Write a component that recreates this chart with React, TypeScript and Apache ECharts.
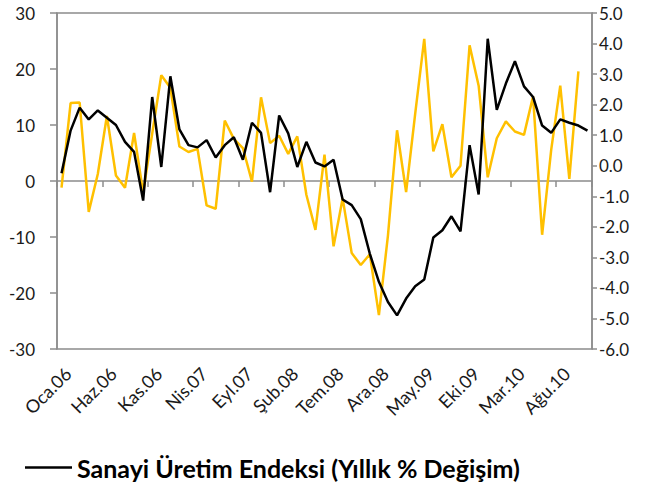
import React, { useEffect, useRef } from "react";
import * as echarts from "echarts";

const monthNames = ["Oca", "Şub", "Mar", "Nis", "May", "Haz", "Tem", "Ağu", "Eyl", "Eki", "Kas", "Ara"];
const years = ["06", "07", "08", "09", "10"];
const monthCount = 59; // Oca.06 .. Kas.10

const categories: string[] = [];
for (let i = 0; i < monthCount; i++) {
  categories.push(monthNames[i % 12] + "." + years[Math.floor(i / 12)]);
}

// Sanayi Üretim Endeksi (Yıllık % Değişim) - left axis
const sanayiYillik = [
  1.4, 9.0, 13.1, 11.0, 12.6, 11.3, 10.0, 7.0, 5.2, -3.5,
  15.0, 2.5, 18.7, 9.2, 6.4, 6.0, 7.3, 4.2, 6.4, 7.8,
  3.8, 10.4, 8.6, -2.0, 11.7, 8.5, 2.5, 7.0, 3.3, 2.6,
  3.8, -3.3, -4.3, -6.8, -13.0, -18.0, -21.6, -24.0, -21.0, -18.8,
  -17.6, -10.1, -8.8, -6.3, -9.0, 6.4, -2.4, 25.4, 12.7, 17.4,
  21.4, 16.9, 15.0, 9.9, 8.6, 11.0, 10.4, 9.9, 9.0,
];

// second series (right axis)
const sanayiAylik = [
  -0.72, 2.05, 2.07, -1.51, -0.27, 1.63, -0.32, -0.72, 1.07, -0.88,
  1.05, 2.96, 2.55, 0.63, 0.45, 0.55, -1.30, -1.41, 1.48, 0.88,
  0.58, -0.52, 2.24, 0.74, 0.98, 0.39, 0.96, -0.95, -2.10, 0.36,
  -2.64, -1.07, -2.86, -3.25, -2.90, -4.89, -2.28, 1.16, -0.86, 1.7,
  4.15, 0.47, 1.36, -0.38, 0.0, 3.94, 2.62, -0.38, 0.90, 1.45,
  1.12, 1.01, 2.27, -2.26, 0.52, 2.62, -0.43, 3.09,
];

const leftTicks = { min: -30, max: 30, interval: 10 };
const rightTicks = { min: -6, max: 5, interval: 1 };

const legendName = "Sanayi Üretim Endeksi (Yıllık % Değişim)";

export default function App() {
  const ref = useRef<HTMLDivElement>(null);
  useEffect(() => {
    if (!ref.current) return;
    const chart = echarts.init(ref.current, null, { renderer: "svg" });
    const gray = "#8c8c8c";
    const font = "Lato";
    chart.setOption({
      animation: false,
      textStyle: { fontFamily: font },
      grid: {
        left: 57,
        right: 57,
        top: 13,
        bottom: 140,
        show: true,
        borderColor: gray,
        borderWidth: 1.5,
        backgroundColor: "transparent",
      },
      legend: {
        data: [legendName],
        left: 20,
        top: 450,
        icon: "rect",
        itemWidth: 47,
        itemHeight: 2.5,
        itemGap: 4,
        textStyle: { fontFamily: font, fontWeight: "bold", fontSize: 25, color: "#000" },
      },
      xAxis: [
        {
          type: "category",
          data: categories,
          position: "top",
          boundaryGap: true,
          axisLine: { show: true, onZero: true, onZeroAxisIndex: 0, lineStyle: { color: gray, width: 1.5 } },
          axisTick: { show: true, inside: true, length: 6, interval: 4, lineStyle: { color: gray, width: 1.5 } },
          axisLabel: { show: false },
          splitLine: { show: false },
        },
        {
          type: "category",
          data: categories,
          position: "bottom",
          boundaryGap: true,
          axisLine: { show: false, onZero: false },
          axisTick: { show: false },
          axisLabel: {
            show: true,
            interval: 4,
            rotate: 45,
            margin: 15,
            verticalAlign: "top",
            padding: [0, 0, 0, 0],
            fontSize: 18,
            fontFamily: font,
            color: "#1a1a1a",
          },
          splitLine: { show: false },
        },
      ],
      yAxis: [
        {
          type: "value",
          position: "left",
          min: leftTicks.min,
          max: leftTicks.max,
          interval: leftTicks.interval,
          axisLine: { show: true, lineStyle: { color: gray, width: 1.5 } },
          axisTick: { show: true, length: 7, lineStyle: { color: gray, width: 1.5 } },
          axisLabel: { margin: 22, fontSize: 17, fontFamily: font, color: "#1a1a1a" },
          splitLine: { show: false },
        },
        {
          type: "value",
          position: "right",
          min: rightTicks.min,
          max: rightTicks.max,
          interval: rightTicks.interval,
          axisLine: { show: true, lineStyle: { color: gray, width: 1.5 } },
          axisTick: { show: true, length: 5, lineStyle: { color: gray, width: 1.5 } },
          axisLabel: {
            margin: 7,
            fontSize: 17,
            fontFamily: font,
            color: "#1a1a1a",
            formatter: (v: number) => v.toFixed(1),
          },
          splitLine: { show: false },
        },
      ],
      series: [
        {
          name: "Aylık",
          type: "line",
          xAxisIndex: 0,
          yAxisIndex: 1,
          data: sanayiAylik,
          symbol: "none",
          lineStyle: { color: "#FFC000", width: 2.5 },
          itemStyle: { color: "#FFC000" },
        },
        {
          name: legendName,
          type: "line",
          xAxisIndex: 0,
          yAxisIndex: 0,
          data: sanayiYillik,
          symbol: "none",
          lineStyle: { color: "#000000", width: 2.5 },
          itemStyle: { color: "#000000" },
        },
      ],
    });
    return () => chart.dispose();
  }, []);
  return (
    <div
      ref={ref}
      style={{ position: "fixed", left: 0, top: 0, width: 649, height: 489, background: "#fff" }}
    />
  );
}
